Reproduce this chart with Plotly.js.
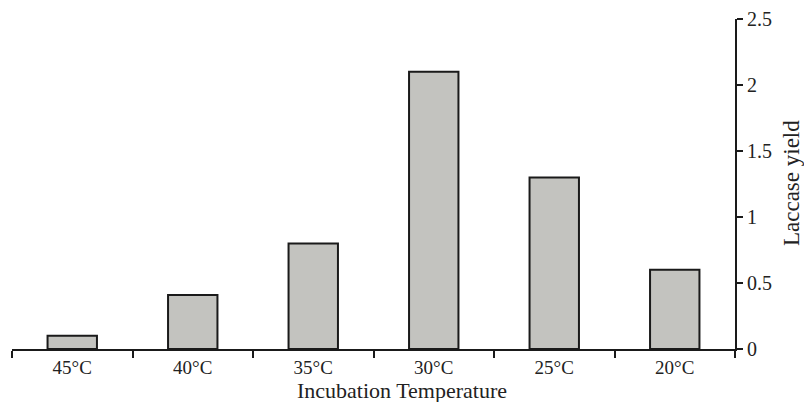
<!DOCTYPE html>
<html>
<head>
<meta charset="utf-8">
<script src="https://cdn.plot.ly/plotly-3.0.1.min.js"></script>
<style>html,body{margin:0;padding:0;background:#fff;}#chart{width:804px;height:402px;}</style>
</head>
<body>
<div id="chart"></div>
<script>
const categories = ["45°C", "40°C", "35°C", "30°C", "25°C", "20°C"];
const laccaseYield = [0.1, 0.41, 0.8, 2.1, 1.3, 0.6];
const yTickValues = [0, 0.5, 1, 1.5, 2, 2.5];
const yTickLabels = ["0", "0.5", "1", "1.5", "2", "2.5"];
const xTitle = "Incubation Temperature";
const yTitle = "Laccase yield";

const tickFont = {family: "Liberation Serif, Times New Roman, serif", color: "#222", size: 19};
const yTickFont = {family: "Liberation Serif, Times New Roman, serif", color: "#222", size: 20};
const titleFont = {family: "Liberation Serif, Times New Roman, serif", color: "#222", size: 22};
const yTitleFont = {family: "Liberation Serif, Times New Roman, serif", color: "#222", size: 23};

Plotly.newPlot("chart", [{
  type: "bar",
  x: categories,
  y: laccaseYield,
  width: 0.41,
  marker: {color: "#c3c3bf", line: {color: "#1a1a1a", width: 2}},
  hoverinfo: "skip"
}], {
  width: 804, height: 402,
  margin: {l: 12, r: 69, t: 19, b: 53},
  paper_bgcolor: "#fff", plot_bgcolor: "#fff",
  font: tickFont,
  showlegend: false,
  bargap: 0.59,
  xaxis: {
    type: "category",
    tickson: "boundaries",
    ticks: "outside", ticklen: 7, tickwidth: 2, tickcolor: "#1a1a1a",
    showline: true, linecolor: "#1a1a1a", linewidth: 2,
    showgrid: false, zeroline: false,
    tickfont: tickFont
  },
  yaxis: {
    side: "right",
    range: [0, 2.5],
    tickvals: yTickValues, ticktext: yTickLabels,
    ticks: "outside", ticklen: 6, tickwidth: 2, tickcolor: "#1a1a1a",
    showline: true, linecolor: "#1a1a1a", linewidth: 2,
    showgrid: false, zeroline: false,
    tickfont: yTickFont
  },
  annotations: [
    {text: xTitle, xref: "paper", yref: "paper", x: 0.539, y: -0.127,
     xanchor: "center", yanchor: "middle", showarrow: false, font: titleFont},
    {text: yTitle, xref: "paper", yref: "paper", x: 1.0775, y: 0.503,
     xanchor: "center", yanchor: "middle", textangle: -90, showarrow: false, font: yTitleFont}
  ]
}, {displayModeBar: false, staticPlot: true});
</script>
</body>
</html>
